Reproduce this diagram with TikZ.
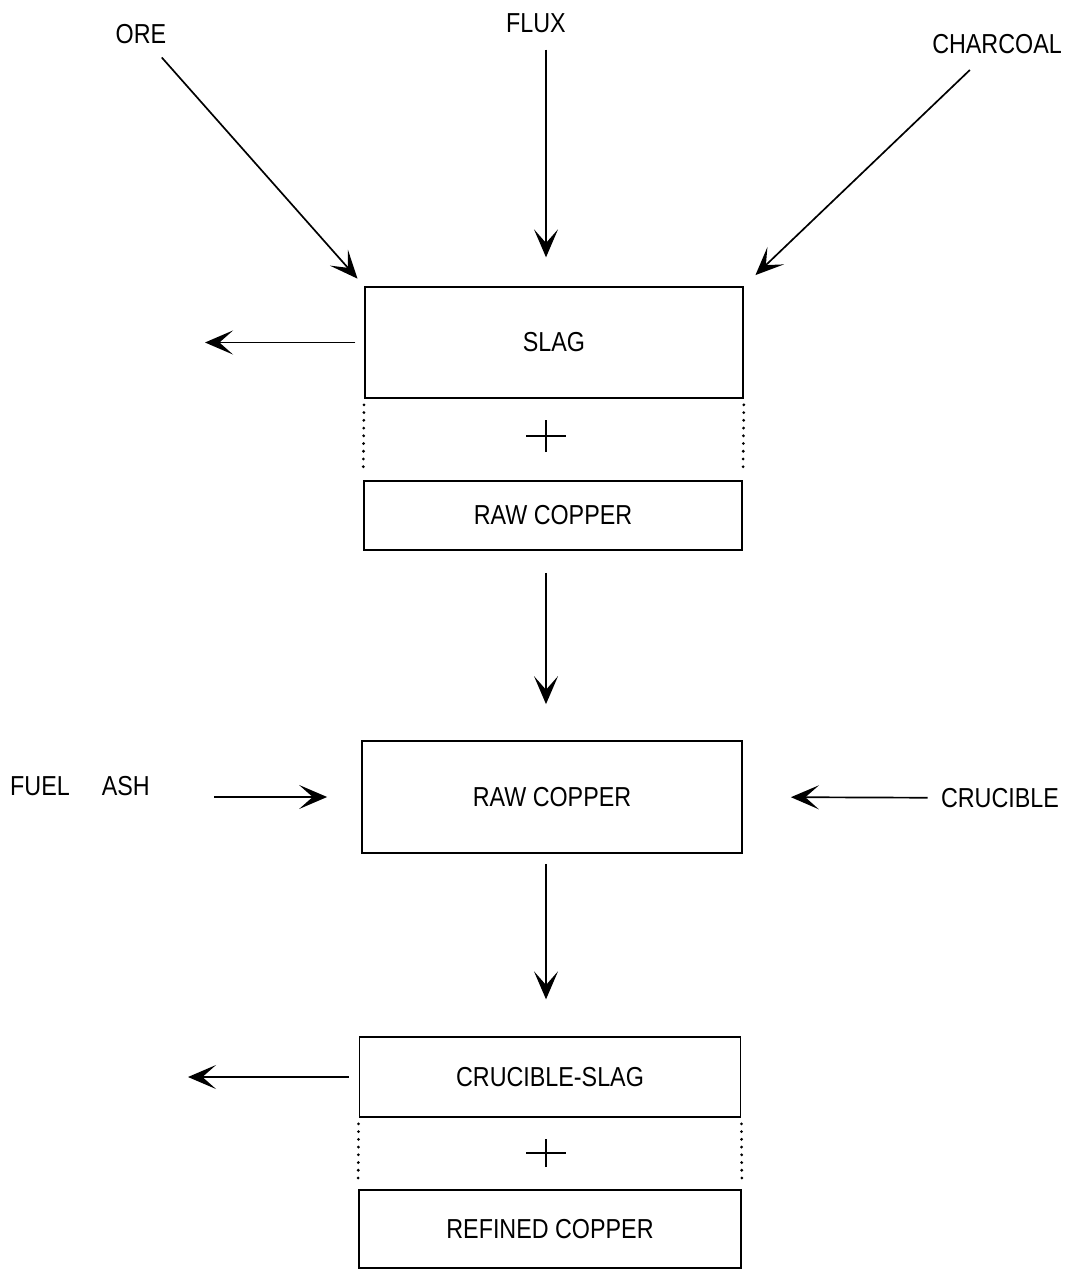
\documentclass[tikz,border=0pt]{standalone}
\usepackage{fontspec}
\setmainfont{Liberation Sans}[FakeStretch=0.85]
\usetikzlibrary{positioning,arrows.meta}

\begin{document}
\begin{tikzpicture}[x=0.025cm, y=-0.025cm,
    >={Stealth[length=7mm, width=6mm, inset=3.4mm]},
    feed/.style={inner sep=0pt, font=\fontsize{19.5}{22}\selectfont},
    stage/.style={draw, line width=1.2pt, inner sep=0pt, font=\fontsize{19.5}{22}\selectfont},
    flow/.style={->, line width=1.2pt},
    joint/.style={line width=2.2pt, dash pattern=on 0pt off 5.5pt, line cap=round, shorten <=0.15cm, shorten >=0.15cm},
    plusmark/.style={line width=1.3pt}
]
    \useasboundingbox (0,0) rectangle (1068,1273);

    % Smelting
    \node[stage, minimum width=9.45cm, minimum height=2.775cm] (slag) at (554,342.5) {SLAG};
    \node[stage, minimum width=9.45cm, minimum height=1.725cm] (rawA) at (553,515.5) {RAW COPPER};
    \draw[joint] (slag.south west) -- (rawA.north west);
    \draw[joint] (slag.south east) -- (rawA.north east);
    \coordinate (plusA) at (546,436);
    \draw[plusmark] ([xshift=-0.5cm]plusA) -- ([xshift=0.5cm]plusA)
                    ([yshift=-0.4cm]plusA) -- ([yshift=0.4cm]plusA);

    % Charge
    \node[feed] (ore) at (141,34) {ORE};
    \node[feed] (flux) at (536,23) {FLUX};
    \node[feed] (charcoal) at (997,44) {CHARCOAL};
    \draw[flow, shorten <=0.45cm, shorten >=0.25cm] (ore) -- (slag.north west);
    \draw[flow, shorten <=0.42cm, shorten >=0.72cm] (flux.south -| plusA) -- (slag.north -| plusA);
    \draw[flow, shorten <=0.58cm, shorten >=0.4cm] (charcoal) -- (slag.north east);

    % Slag out
    \coordinate (slagout) at (205,349);
    \draw[flow, shorten <=0.22cm] (slag.west) -- (slag.west -| slagout);

    % Refining
    \node[stage, minimum width=9.5cm, minimum height=2.8cm] (rawB) at (552,797) {RAW COPPER};
    \draw[flow, shorten <=0.55cm, shorten >=0.9cm] (rawA.south -| plusA) -- (rawB.north -| plusA);

    \node[feed] (fuel) at (80,786) {FUEL\hspace{0.8cm}ASH};
    \node[feed] (crucible) at (1000,798) {CRUCIBLE};
    \draw[flow, shorten <=1.6cm, shorten >=0.85cm] (fuel.east |- rawB.west) -- (rawB.west);
    \draw[flow, shorten <=0.33cm, shorten >=1.2cm] (crucible) -- (rawB.east);

    % Products
    \node[stage, minimum width=9.525cm, minimum height=2.0cm] (cslag) at (550,1077) {CRUCIBLE-SLAG};
    \node[stage, minimum width=9.55cm, minimum height=1.95cm] (refined) at (550,1229) {REFINED COPPER};
    \draw[flow, shorten <=0.25cm, shorten >=0.92cm] (rawB.south -| plusA) -- (cslag.north -| plusA);
    \draw[joint] (cslag.south west) -- (refined.north west);
    \draw[joint] (cslag.south east) -- (refined.north east);
    \coordinate (plusB) at (546,1153);
    \draw[plusmark] ([xshift=-0.5cm]plusB) -- ([xshift=0.5cm]plusB)
                    ([yshift=-0.35cm]plusB) -- ([yshift=0.35cm]plusB);

    \coordinate (cslagout) at (188,1077);
    \draw[flow, shorten <=0.25cm] (cslag.west) -- (cslag.west -| cslagout);

\end{tikzpicture}
\end{document}
